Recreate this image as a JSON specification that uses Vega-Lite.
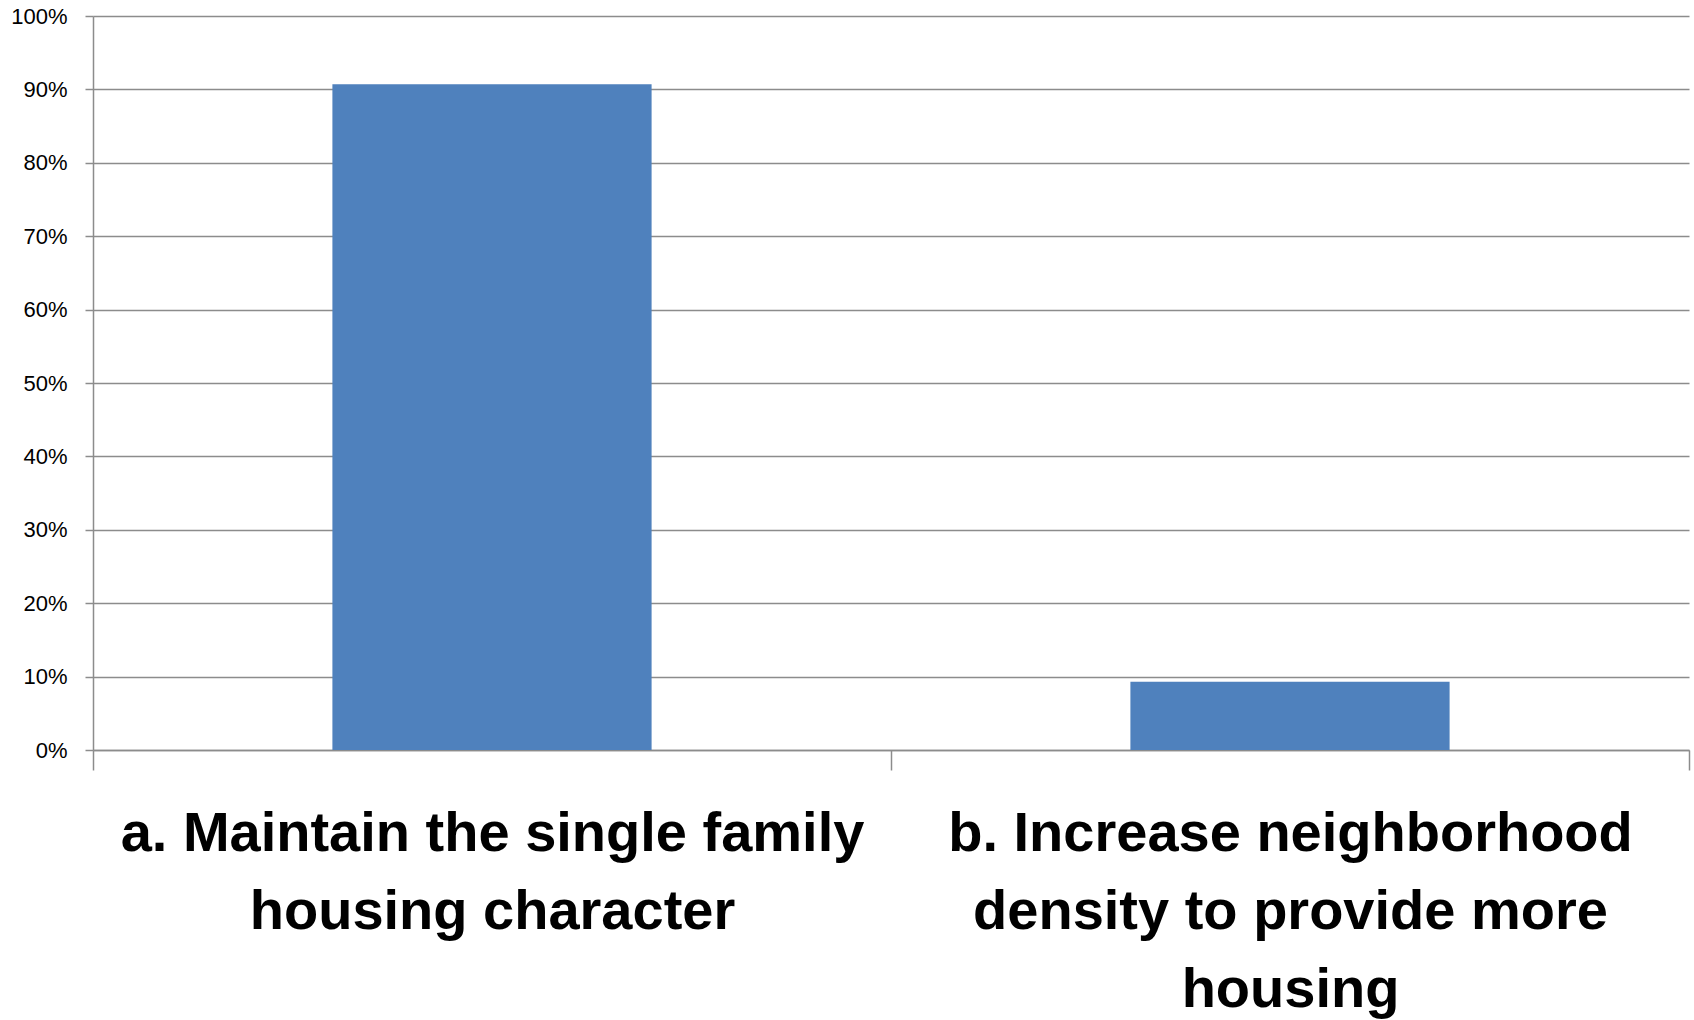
{
  "$schema": "https://vega.github.io/schema/vega-lite/v6.json",
  "autosize": {"type": "none"},
  "padding": {"left": 93, "top": 16, "right": 5, "bottom": 270},
  "width": 1596,
  "height": 734,
  "background": "white",
  "data": {
    "values": [
      {"option": "a. Maintain the single family housing character", "share": 0.907},
      {"option": "b. Increase neighborhood density to provide more housing", "share": 0.093}
    ]
  },
  "mark": {"type": "bar", "color": "#4F81BD", "width": {"band": 0.4}},
  "encoding": {
    "x": {
      "field": "option",
      "type": "nominal",
      "sort": null,
      "scale": {"paddingInner": 0, "paddingOuter": 0},
      "axis": {
        "title": null,
        "labelAngle": 0,
        "tickBand": "extent",
        "tickSize": 20,
        "tickWidth": 1.5,
        "tickColor": "#8c8c8c",
        "domainColor": "#8c8c8c",
        "domainWidth": 1.5,
        "grid": false,
        "labelFont": "Liberation Sans",
        "labelFontWeight": "bold",
        "labelFontSize": 56,
        "labelColor": "#000000",
        "labelLineHeight": 78,
        "labelPadding": 36,
        "labelLimit": 0,
        "labelBaseline": "top",
        "labelExpr": "datum.value == 'a. Maintain the single family housing character' ? ['a. Maintain the single family', 'housing character'] : datum.value == 'b. Increase neighborhood density to provide more housing' ? ['b. Increase neighborhood', 'density to provide more', 'housing'] : ''"
      }
    },
    "y": {
      "field": "share",
      "type": "quantitative",
      "scale": {"domain": [0, 1], "nice": false},
      "axis": {
        "title": null,
        "format": ".0%",
        "values": [0, 0.1, 0.2, 0.3, 0.4, 0.5, 0.6, 0.7, 0.8, 0.9, 1.0],
        "grid": true,
        "gridColor": "#8c8c8c",
        "gridWidth": 1.5,
        "tickColor": "#8c8c8c",
        "tickWidth": 1.5,
        "tickSize": 8,
        "domainColor": "#8c8c8c",
        "domainWidth": 1.5,
        "labelFont": "Liberation Sans",
        "labelFontSize": 22,
        "labelColor": "#000000",
        "labelPadding": 18
      }
    }
  },
  "config": {"view": {"stroke": null}}
}
